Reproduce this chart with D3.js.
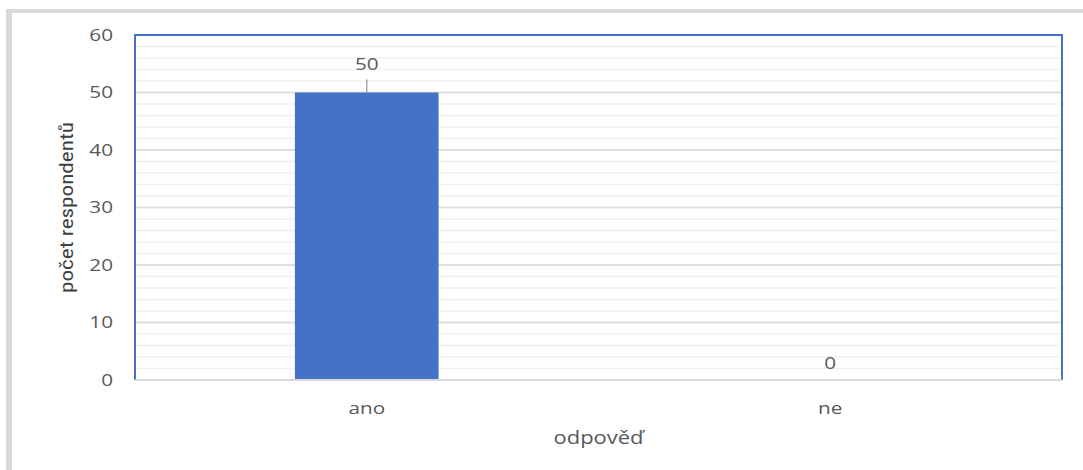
<!DOCTYPE html>
<html>
<head>
<meta charset="utf-8">
<script src="https://cdn.jsdelivr.net/npm/d3@7"></script>
<style>
  body { margin: 0; background: #fff; }
  text { font-family: "Open Sans", "DejaVu Sans", sans-serif; fill: #595959; }
</style>
</head>
<body>
<div id="chart"></div>
<script>
// data
var categories = ["ano", "ne"];
var counts = [50, 0];
var yTicks = [0, 10, 20, 30, 40, 50, 60];
var minorTicks = d3.range(0, 61, 2);
var yTitle = "počet respondentů";
var xTitle = "odpověď";

var width = 1083,
    height = 470,
    margin = { left: 135, right: 21, top: 35, bottom: 90 },
    stretch = 1.22; // the source image is a bit wider than tall

var svg = d3.select("#chart").append("svg")
    .attr("width", width)
    .attr("height", height);

// gray frame (top + left) from the screenshot
svg.append("rect").attr("x", 6).attr("y", 9).attr("width", width - 6).attr("height", 4).attr("fill", "#d9d9d9");
svg.append("rect").attr("x", 6).attr("y", 9).attr("width", 6).attr("height", height - 9).attr("fill", "#d9d9d9");

var x = d3.scaleBand()
    .domain(categories)
    .range([margin.left, width - margin.right])
    .paddingInner(0.69)
    .paddingOuter(0.345);

var y = d3.scaleLinear()
    .domain([0, 60])
    .range([height - margin.bottom, margin.top]);

// text placed at a point, stretched horizontally
function label(px, py, str, size, anchor) {
    return svg.append("text")
        .attr("transform", "translate(" + px + "," + py + ") scale(" + stretch + ",1)")
        .attr("dy", "0.35em")
        .attr("text-anchor", anchor || "middle")
        .style("font-size", size + "px")
        .text(str);
}

var g = svg.append("g");

// minor gridlines
g.selectAll(".minor").data(minorTicks).enter().append("line")
    .attr("class", "minor")
    .attr("x1", margin.left).attr("x2", width - margin.right)
    .attr("y1", function(d) { return y(d); }).attr("y2", function(d) { return y(d); })
    .attr("stroke", "#f0f0f0").attr("stroke-width", 1.5);

// major gridlines
g.selectAll(".major").data(yTicks).enter().append("line")
    .attr("class", "major")
    .attr("x1", margin.left).attr("x2", width - margin.right)
    .attr("y1", function(d) { return y(d); }).attr("y2", function(d) { return y(d); })
    .attr("stroke", "#d9d9d9").attr("stroke-width", 1.5);

// bars
g.selectAll(".bar").data(counts).enter().append("rect")
    .attr("class", "bar")
    .attr("x", function(d, i) { return x(categories[i]); })
    .attr("y", function(d) { return y(d); })
    .attr("width", x.bandwidth())
    .attr("height", function(d) { return y(0) - y(d); })
    .attr("fill", "#4472c4");

// plot area border: blue on top/left/right, gray axis at the bottom
svg.append("path")
    .attr("d", "M" + margin.left + "," + y(0) + "V" + margin.top + "H" + (width - margin.right) + "V" + y(0))
    .attr("fill", "none").attr("stroke", "#4472c4").attr("stroke-width", 2);
svg.append("line")
    .attr("x1", margin.left).attr("x2", width - margin.right)
    .attr("y1", y(0)).attr("y2", y(0))
    .attr("stroke", "#d9d9d9").attr("stroke-width", 2);

// y tick labels
yTicks.forEach(function(d) {
    label(113, y(d), d, 17, "end");
});

// category labels
categories.forEach(function(c) {
    label(x(c) + x.bandwidth() / 2, 408, c, 17);
});

// data labels
counts.forEach(function(d, i) {
    var cx = x(categories[i]) + x.bandwidth() / 2;
    if (d > 0) {
        svg.append("line")
            .attr("x1", cx).attr("x2", cx)
            .attr("y1", y(d)).attr("y2", y(d) - 13)
            .attr("stroke", "#a6a6a6").attr("stroke-width", 1.5);
        label(cx, y(d) - 28, d, 17);
    } else {
        label(cx, y(d) - 17, d, 17);
    }
});

// axis titles
svg.append("text")
    .attr("transform", "translate(66," + ((margin.top + y(0)) / 2) + ") rotate(-90) scale(" + stretch + ",1)")
    .attr("dy", "0.35em")
    .attr("text-anchor", "middle")
    .style("font-family", "'Liberation Sans Narrow', 'Roboto Condensed', 'DejaVu Sans Condensed', sans-serif")
    .style("font-size", "19px")
    .style("fill", "#404040")
    .text(yTitle);

label((margin.left + width - margin.right) / 2, 438, xTitle, 18);
</script>
</body>
</html>
